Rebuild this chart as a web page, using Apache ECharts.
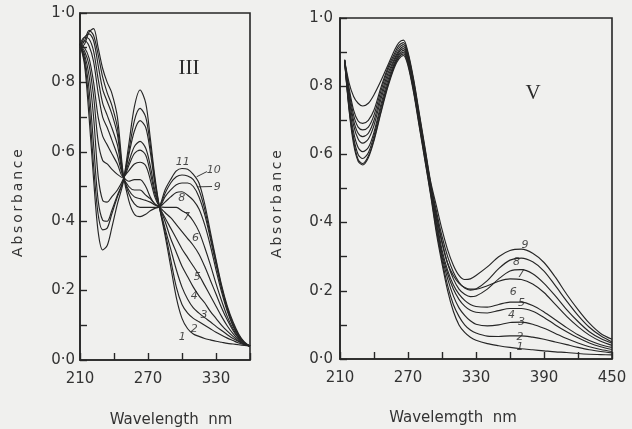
<!DOCTYPE html>
<html>
<head>
<meta charset="utf-8">
<script src="https://cdn.jsdelivr.net/npm/echarts@6/dist/echarts.min.js"></script>
<style>
  html, body { margin: 0; padding: 0; background: #f0f0ee; }
  #chart { width: 632px; height: 429px; }
</style>
</head>
<body>
<div id="chart"></div>
<script>
// panel III : wavelength grid (nm) and absorbance of curves 1..11
const nmIII = [210, 214, 218, 222, 226, 230, 234, 238, 243, 248, 253, 258, 263, 268, 272, 276, 280,
  285, 290, 295, 300, 305, 310, 315, 320, 325, 330, 335, 340, 345, 350, 355, 360];
const iii1 = [0.91, 0.85, 0.70, 0.52, 0.37, 0.317, 0.33, 0.38, 0.45, 0.51, 0.62, 0.73, 0.778, 0.74, 0.64, 0.53, 0.442,
  0.36, 0.27, 0.18, 0.12, 0.09, 0.075, 0.068, 0.062, 0.058, 0.054, 0.051, 0.048, 0.046, 0.044, 0.042, 0.04];
const iii2 = [0.91, 0.86, 0.74, 0.56, 0.42, 0.375, 0.38, 0.42, 0.47, 0.515, 0.60, 0.69, 0.725, 0.70, 0.62, 0.52, 0.442,
  0.37, 0.29, 0.21, 0.16, 0.135, 0.12, 0.11, 0.10, 0.09, 0.08, 0.071, 0.063, 0.056, 0.049, 0.044, 0.04];
const iii3 = [0.91, 0.87, 0.78, 0.62, 0.46, 0.403, 0.40, 0.43, 0.475, 0.515, 0.59, 0.66, 0.69, 0.67, 0.60, 0.51, 0.442,
  0.38, 0.32, 0.26, 0.21, 0.175, 0.15, 0.135, 0.122, 0.11, 0.097, 0.085, 0.073, 0.062, 0.053, 0.045, 0.04];
const iii4 = [0.91, 0.88, 0.82, 0.70, 0.53, 0.46, 0.455, 0.47, 0.49, 0.52, 0.57, 0.615, 0.63, 0.61, 0.56, 0.49, 0.442,
  0.40, 0.35, 0.31, 0.27, 0.24, 0.21, 0.185, 0.165, 0.14, 0.12, 0.10, 0.083, 0.068, 0.055, 0.046, 0.04];
const iii5 = [0.91, 0.89, 0.85, 0.76, 0.63, 0.575, 0.565, 0.55, 0.535, 0.525, 0.56, 0.595, 0.605, 0.59, 0.54, 0.48, 0.442,
  0.41, 0.38, 0.35, 0.32, 0.295, 0.27, 0.245, 0.215, 0.185, 0.155, 0.125, 0.098, 0.076, 0.058, 0.046, 0.04];
const iii6 = [0.91, 0.90, 0.87, 0.80, 0.70, 0.645, 0.62, 0.595, 0.565, 0.528, 0.545, 0.565, 0.57, 0.56, 0.52, 0.47, 0.442,
  0.425, 0.41, 0.39, 0.37, 0.35, 0.33, 0.305, 0.27, 0.23, 0.19, 0.15, 0.115, 0.085, 0.062, 0.048, 0.04];
const iii7 = [0.91, 0.92, 0.905, 0.86, 0.77, 0.70, 0.67, 0.635, 0.59, 0.53, 0.515, 0.52, 0.52, 0.50, 0.47, 0.45, 0.442,
  0.44, 0.44, 0.44, 0.43, 0.42, 0.40, 0.37, 0.325, 0.275, 0.22, 0.17, 0.125, 0.09, 0.064, 0.048, 0.04];
const iii8 = [0.91, 0.93, 0.925, 0.89, 0.81, 0.74, 0.705, 0.67, 0.62, 0.53, 0.50, 0.49, 0.49, 0.475, 0.465, 0.45, 0.442,
  0.455, 0.47, 0.483, 0.485, 0.475, 0.46, 0.435, 0.39, 0.33, 0.26, 0.195, 0.14, 0.098, 0.068, 0.05, 0.04];
const iii9 = [0.90, 0.93, 0.94, 0.92, 0.85, 0.78, 0.745, 0.71, 0.65, 0.53, 0.49, 0.47, 0.465, 0.46, 0.455, 0.447, 0.442,
  0.47, 0.49, 0.505, 0.51, 0.51, 0.50, 0.47, 0.42, 0.35, 0.275, 0.205, 0.145, 0.10, 0.07, 0.05, 0.04];
const iii10 = [0.90, 0.92, 0.95, 0.935, 0.88, 0.815, 0.77, 0.735, 0.67, 0.535, 0.48, 0.45, 0.44, 0.44, 0.44, 0.44, 0.442,
  0.48, 0.51, 0.528, 0.533, 0.53, 0.52, 0.49, 0.435, 0.36, 0.285, 0.21, 0.15, 0.105, 0.072, 0.05, 0.04];
const iii11 = [0.90, 0.91, 0.945, 0.955, 0.90, 0.84, 0.80, 0.77, 0.70, 0.54, 0.46, 0.42, 0.413, 0.42, 0.43, 0.437, 0.442,
  0.49, 0.52, 0.545, 0.552, 0.55, 0.535, 0.51, 0.45, 0.37, 0.29, 0.215, 0.155, 0.11, 0.075, 0.052, 0.04];

// panel V : wavelength grid (nm) and absorbance of curves 1..9
const nmV = [214, 218, 222, 226, 230, 235, 240, 246, 252, 258, 262, 266, 270, 275, 280, 285, 290, 295, 300,
  305, 310, 315, 320, 325, 330, 340, 350, 360, 370, 380, 390, 400, 410, 420, 430, 440, 450];
const v1 = [0.877, 0.73, 0.63, 0.58, 0.569, 0.59, 0.64, 0.72, 0.795, 0.855, 0.88, 0.89, 0.86, 0.78, 0.68, 0.58, 0.48, 0.37, 0.28,
  0.20, 0.14, 0.10, 0.078, 0.064, 0.055, 0.045, 0.039, 0.034, 0.030, 0.027, 0.024, 0.021, 0.019, 0.016, 0.014, 0.013, 0.012];
const v2 = [0.877, 0.735, 0.64, 0.585, 0.573, 0.595, 0.645, 0.725, 0.80, 0.86, 0.885, 0.895, 0.865, 0.785, 0.685, 0.585, 0.485, 0.38, 0.29,
  0.215, 0.16, 0.125, 0.10, 0.085, 0.076, 0.067, 0.066, 0.068, 0.068, 0.064, 0.058, 0.05, 0.042, 0.034, 0.027, 0.022, 0.018];
const v3 = [0.877, 0.74, 0.65, 0.60, 0.588, 0.605, 0.655, 0.735, 0.805, 0.862, 0.89, 0.90, 0.87, 0.79, 0.69, 0.59, 0.49, 0.39, 0.30,
  0.235, 0.185, 0.15, 0.128, 0.112, 0.102, 0.097, 0.10, 0.107, 0.108, 0.102, 0.09, 0.075, 0.06, 0.047, 0.036, 0.028, 0.022];
const v4 = [0.877, 0.75, 0.665, 0.62, 0.608, 0.62, 0.665, 0.745, 0.815, 0.868, 0.895, 0.905, 0.875, 0.795, 0.695, 0.595, 0.495, 0.40, 0.31,
  0.25, 0.205, 0.175, 0.155, 0.143, 0.137, 0.135, 0.142, 0.148, 0.148, 0.14, 0.122, 0.10, 0.08, 0.062, 0.047, 0.036, 0.028];
const v5 = [0.877, 0.765, 0.685, 0.645, 0.633, 0.645, 0.685, 0.76, 0.825, 0.875, 0.90, 0.91, 0.88, 0.80, 0.70, 0.60, 0.50, 0.41, 0.32,
  0.26, 0.218, 0.19, 0.172, 0.16, 0.154, 0.152, 0.16, 0.167, 0.167, 0.157, 0.138, 0.115, 0.092, 0.071, 0.054, 0.042, 0.034];
const v6 = [0.877, 0.775, 0.70, 0.662, 0.652, 0.662, 0.70, 0.772, 0.835, 0.88, 0.905, 0.916, 0.885, 0.805, 0.705, 0.605, 0.505, 0.42, 0.34,
  0.28, 0.245, 0.222, 0.21, 0.205, 0.205, 0.215, 0.228, 0.235, 0.233, 0.22, 0.195, 0.16, 0.125, 0.095, 0.07, 0.052, 0.04];
const v7 = [0.877, 0.785, 0.715, 0.68, 0.672, 0.68, 0.715, 0.785, 0.845, 0.888, 0.912, 0.922, 0.89, 0.81, 0.71, 0.61, 0.51, 0.425, 0.345,
  0.28, 0.235, 0.205, 0.19, 0.183, 0.185, 0.205, 0.235, 0.258, 0.262, 0.25, 0.222, 0.185, 0.145, 0.11, 0.08, 0.06, 0.046];
const v8 = [0.877, 0.795, 0.73, 0.698, 0.691, 0.70, 0.73, 0.795, 0.852, 0.895, 0.92, 0.928, 0.895, 0.815, 0.715, 0.615, 0.515, 0.435, 0.36,
  0.30, 0.255, 0.225, 0.208, 0.202, 0.205, 0.23, 0.265, 0.29, 0.296, 0.285, 0.258, 0.215, 0.17, 0.128, 0.093, 0.068, 0.05];
const v9 = [0.877, 0.81, 0.77, 0.75, 0.742, 0.75, 0.775, 0.815, 0.86, 0.905, 0.928, 0.935, 0.90, 0.82, 0.72, 0.62, 0.52, 0.45, 0.38,
  0.32, 0.275, 0.245, 0.233, 0.235, 0.245, 0.27, 0.30, 0.318, 0.322, 0.31, 0.283, 0.24, 0.19, 0.145, 0.105, 0.075, 0.058];

// hand-written curve numbers: [nm, absorbance, text]
const tagsIII = [[300.6, 0.569, '11'], [328, 0.546, '10'], [331, 0.497, '9'], [299.7, 0.466, '8'], [304, 0.413, '7'],
  [312, 0.351, '6'], [313.5, 0.24, '5'], [310.8, 0.184, '4'], [319.4, 0.128, '3'], [310.8, 0.089, '2'], [300.3, 0.065, '1']];
const tagsV = [[373.2, 0.334, '9'], [365.8, 0.283, '8'], [369.6, 0.248, '7'], [362.9, 0.197, '6'], [370.2, 0.165, '5'],
  [361.4, 0.129, '4'], [370.2, 0.109, '3'], [368.8, 0.065, '2'], [368.8, 0.034, '1']];
// leader strokes from curves 10 and 9 to their numbers
const lead10 = [[312.9, 0.528], [322, 0.543]];
const lead9 = [[314.3, 0.499], [326.5, 0.500]];

const ink = '#262626';
const curvesIII = [iii1, iii2, iii3, iii4, iii5, iii6, iii7, iii8, iii9, iii10, iii11];
const curvesV = [v1, v2, v3, v4, v5, v6, v7, v8, v9];

function pairUp(xs, ys) {
  return xs.map((x, i) => [x, ys[i]]);
}

function yLabel(v) {
  const k = Math.round(v * 10);
  if (k % 2 !== 0) return '';
  return (k / 10).toFixed(1).replace('.', '·');
}

function xAxisOf(idx, max, showLast) {
  return {
    type: 'value', gridIndex: idx, min: 210, max: max, interval: 30,
    axisLine: { lineStyle: { color: ink, width: 1.6 } },
    axisTick: { inside: true, length: 7, lineStyle: { color: ink, width: 1.4 } },
    splitLine: { show: false },
    axisLabel: {
      margin: 12, color: '#333', fontSize: 15, fontFamily: 'DejaVu Sans',
      formatter: (v) => ((v - 210) % 60 === 0 && (showLast || v < max) ? String(v) : ''),
    },
  };
}

function yAxisOf(idx, margin) {
  return {
    type: 'value', gridIndex: idx, min: 0, max: 1, interval: 0.1,
    axisLine: { show: true, lineStyle: { color: ink, width: 1.6 } },
    axisTick: { show: true, inside: true, length: 7, lineStyle: { color: ink, width: 1.4 } },
    splitLine: { show: false },
    axisLabel: { margin: margin, color: '#333', fontSize: 15, fontFamily: 'DejaVu Sans', formatter: yLabel },
  };
}

const series = [];
curvesIII.forEach((ys, i) => {
  series.push({
    name: 'III-' + (i + 1), type: 'line', xAxisIndex: 0, yAxisIndex: 0,
    data: pairUp(nmIII, ys), smooth: 0.3, showSymbol: false,
    lineStyle: { color: ink, width: 1.15 },
  });
});
curvesV.forEach((ys, i) => {
  series.push({
    name: 'V-' + (i + 1), type: 'line', xAxisIndex: 1, yAxisIndex: 1,
    data: pairUp(nmV, ys), smooth: 0.3, showSymbol: false,
    lineStyle: { color: ink, width: 1.15 },
  });
});
[lead10, lead9].forEach((seg) => {
  series.push({
    type: 'line', xAxisIndex: 0, yAxisIndex: 0, data: seg, showSymbol: false,
    lineStyle: { color: ink, width: 0.9 },
  });
});
[[tagsIII, 0], [tagsV, 1]].forEach(([tags, gi]) => {
  series.push({
    type: 'scatter', xAxisIndex: gi, yAxisIndex: gi, data: tags, symbolSize: 2,
    itemStyle: { color: 'rgba(0,0,0,0)' },
    label: {
      show: true, position: 'inside', formatter: (p) => p.data[2],
      color: '#1e1e1e', fontSize: 11, fontStyle: 'italic', fontFamily: 'DejaVu Sans',
    },
    labelLayout: { hideOverlap: false },
  });
});

const chart = echarts.init(document.getElementById('chart'), null, { renderer: 'canvas' });
chart.setOption({
  animation: false,
  backgroundColor: '#f0f0ee',
  grid: [
    { left: 80, top: 13, width: 170, height: 347, show: true, borderColor: ink, borderWidth: 1.6, backgroundColor: 'transparent' },
    { left: 340, top: 18, width: 272, height: 341, show: true, borderColor: ink, borderWidth: 1.6, backgroundColor: 'transparent' },
  ],
  xAxis: [xAxisOf(0, 360, false), xAxisOf(1, 450, true)],
  yAxis: [yAxisOf(0, 5), yAxisOf(1, 7)],
  series: series,
  graphic: [
    { type: 'text', x: 18, y: 203, rotation: Math.PI / 2,
      style: { text: 'A\u2009b\u2009s\u2009o\u2009r\u2009b\u2009a\u2009n\u2009c\u2009e', fill: '#333', fontSize: 14,
        fontFamily: 'DejaVu Sans', align: 'center', verticalAlign: 'middle' } },
    { type: 'text', x: 277, y: 204, rotation: Math.PI / 2,
      style: { text: 'A\u2009b\u2009s\u2009o\u2009r\u2009b\u2009a\u2009n\u2009c\u2009e', fill: '#333', fontSize: 14,
        fontFamily: 'DejaVu Sans', align: 'center', verticalAlign: 'middle' } },
    { type: 'text', x: 171, y: 420,
      style: { text: 'Wavelength  nm', fill: '#333', fontSize: 15, fontFamily: 'DejaVu Sans',
        align: 'center', verticalAlign: 'middle' } },
    { type: 'text', x: 453, y: 418,
      style: { text: 'Wavelemgth  nm', fill: '#333', fontSize: 15, fontFamily: 'DejaVu Sans',
        align: 'center', verticalAlign: 'middle' } },
    { type: 'text', x: 189, y: 68,
      style: { text: 'III', fill: '#2a2a2a', fontSize: 21, fontFamily: 'Liberation Serif',
        align: 'center', verticalAlign: 'middle' } },
    { type: 'text', x: 533, y: 93,
      style: { text: 'V', fill: '#2a2a2a', fontSize: 21, fontFamily: 'Liberation Serif',
        align: 'center', verticalAlign: 'middle' } },
  ],
});
</script>
</body>
</html>
